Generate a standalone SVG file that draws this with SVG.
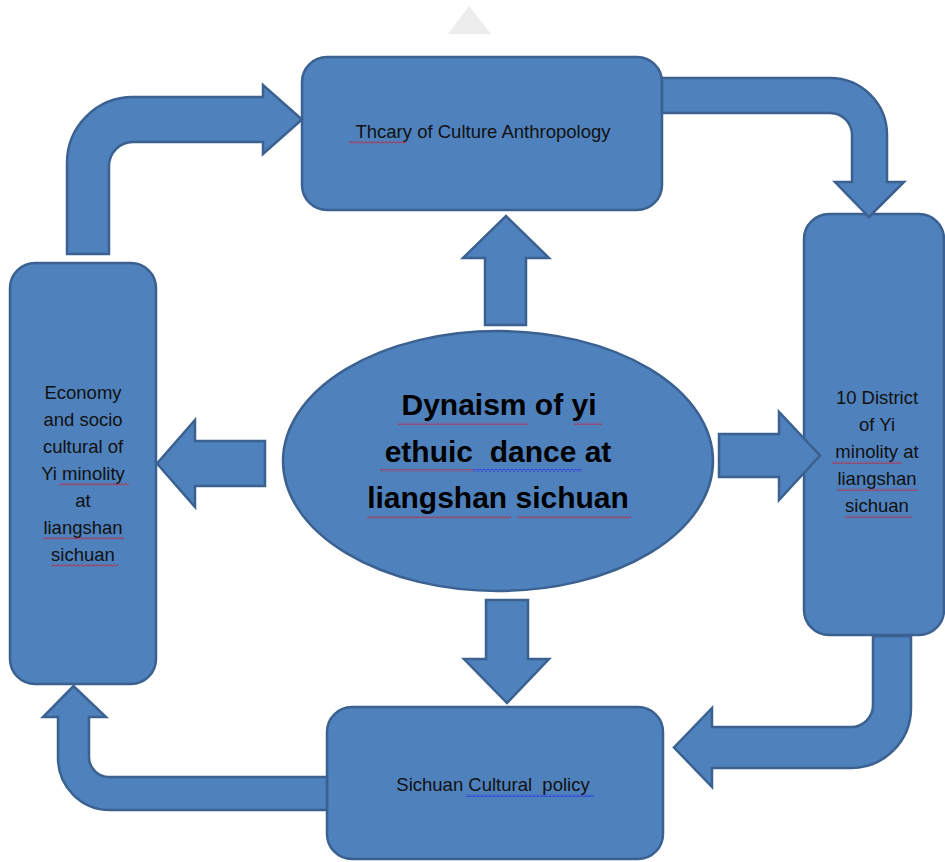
<svg xmlns="http://www.w3.org/2000/svg" width="945" height="862" viewBox="0 0 945 862">
<style>
.shape{fill:#4F81BD;stroke:#3A6190;stroke-width:2.5;stroke-linejoin:round}
.arr{fill:#4F81BD;stroke:#3A6190;stroke-width:2.5;stroke-linejoin:miter}
.t{font-family:"Liberation Sans",Arial,sans-serif;font-size:18.5px;fill:#111;text-anchor:middle;white-space:pre}
.tb{font-family:"Liberation Sans",Arial,sans-serif;font-size:30px;font-weight:bold;fill:#000;text-anchor:middle;white-space:pre}
</style>
<defs>
<pattern id="sqr" width="4" height="3" patternUnits="userSpaceOnUse">
<path d="M0,2.5 L2,0.5 L4,2.5" fill="none" stroke="#e0101a" stroke-width="0.9"/>
</pattern>
<pattern id="sqb" width="4" height="3" patternUnits="userSpaceOnUse">
<path d="M0,2.5 L2,0.5 L4,2.5" fill="none" stroke="#1a1af0" stroke-width="0.9"/>
</pattern>
</defs>
<rect width="945" height="862" fill="#ffffff"/>
<polygon points="448,34 469,6 491,34" fill="#ededed"/>

<g id="node-theory">
<rect class="shape" x="302" y="57" width="360" height="153" rx="25"/>
<text class="t" x="483" y="138">Thcary of Culture Anthropology</text>
<rect x="349" y="141" width="57" height="3" fill="url(#sqr)"/>
</g>

<g id="node-district">
<rect class="shape" x="804" y="214" width="140" height="421" rx="25"/>
<text class="t" x="877" y="404">10 District</text>
<text class="t" x="877" y="431">of Yi</text>
<text class="t" x="877" y="458">minolity at</text>
<text class="t" x="877" y="485">liangshan</text>
<text class="t" x="877" y="512">sichuan</text>
<rect x="832" y="461" width="70" height="3" fill="url(#sqr)"/>
<rect x="837" y="488" width="81" height="3" fill="url(#sqr)"/>
<rect x="845" y="515" width="67" height="3" fill="url(#sqr)"/>
</g>

<g id="node-economy">
<rect class="shape" x="10" y="263" width="146" height="421" rx="25"/>
<text class="t" x="83" y="399">Economy</text>
<text class="t" x="83" y="426">and socio</text>
<text class="t" x="83" y="453">cultural of</text>
<text class="t" x="83" y="480">Yi minolity</text>
<text class="t" x="83" y="507">at</text>
<text class="t" x="83" y="534">liangshan</text>
<text class="t" x="83" y="561">sichuan</text>
<rect x="59" y="483" width="70" height="3" fill="url(#sqr)"/>
<rect x="43" y="537" width="81" height="3" fill="url(#sqr)"/>
<rect x="51" y="564" width="67" height="3" fill="url(#sqr)"/>
</g>

<g id="node-policy">
<rect class="shape" x="327" y="707" width="336" height="152" rx="25"/>
<text class="t" x="493" y="791">Sichuan Cultural  policy</text>
<rect x="466" y="794" width="128" height="3" fill="url(#sqb)"/>
</g>

<g id="node-center">
<ellipse class="shape" cx="498" cy="461" rx="215" ry="130"/>
<text class="tb" x="499" y="415">Dynaism of yi</text>
<text class="tb" x="498" y="462">ethuic  dance at</text>
<text class="tb" x="498" y="508">liangshan sichuan</text>
<rect x="398" y="422" width="130" height="3" fill="url(#sqr)"/>
<rect x="574" y="422" width="28" height="3" fill="url(#sqr)"/>
<rect x="380" y="469" width="93" height="3" fill="url(#sqr)"/>
<rect x="473" y="469" width="109" height="3" fill="url(#sqb)"/>
<rect x="367" y="516" width="144" height="3" fill="url(#sqr)"/>
<rect x="517" y="516" width="114" height="3" fill="url(#sqr)"/>
</g>

<g id="connectors">
<path class="arr" d="M67,254 L67,163 A66,66 0 0 1 133,97 L263,97 L263,85 L302,119.5 L263,154 L263,142 L133,142 A24,24 0 0 0 109,166 L109,254 Z"/>
<path class="arr" d="M662,78 L830,78 A57,57 0 0 1 887,135 L887,182 L904,182 L869,217 L835,182 L852,182 L852,135 A22,22 0 0 0 830,113 L662,113 Z"/>
<path class="arr" d="M873,636 L911,636 L911,708 A60,60 0 0 1 851,768 L712,768 L712,787 L674,747.5 L712,708 L712,727 L851,727 A22,22 0 0 0 873,705 Z"/>
<path class="arr" d="M327,777 L109,777 A20,20 0 0 1 89,757 L89,717 L106,717 L73.5,686 L43,717 L58,717 L58,758 A52,52 0 0 0 110,810 L327,810 Z"/>
<path class="arr" d="M485,325 L485,258 L463,258 L506,216 L549,258 L526,258 L526,325 Z"/>
<path class="arr" d="M265,441 L195,441 L195,420 L157,463.5 L195,507 L195,486 L265,486 Z"/>
<path class="arr" d="M719,434 L779,434 L779,412 L820,455.5 L779,500 L779,477 L719,477 Z"/>
<path class="arr" d="M486,600 L528,600 L528,659 L549,659 L507,703 L464,659 L486,659 Z"/>
</g>
</svg>
